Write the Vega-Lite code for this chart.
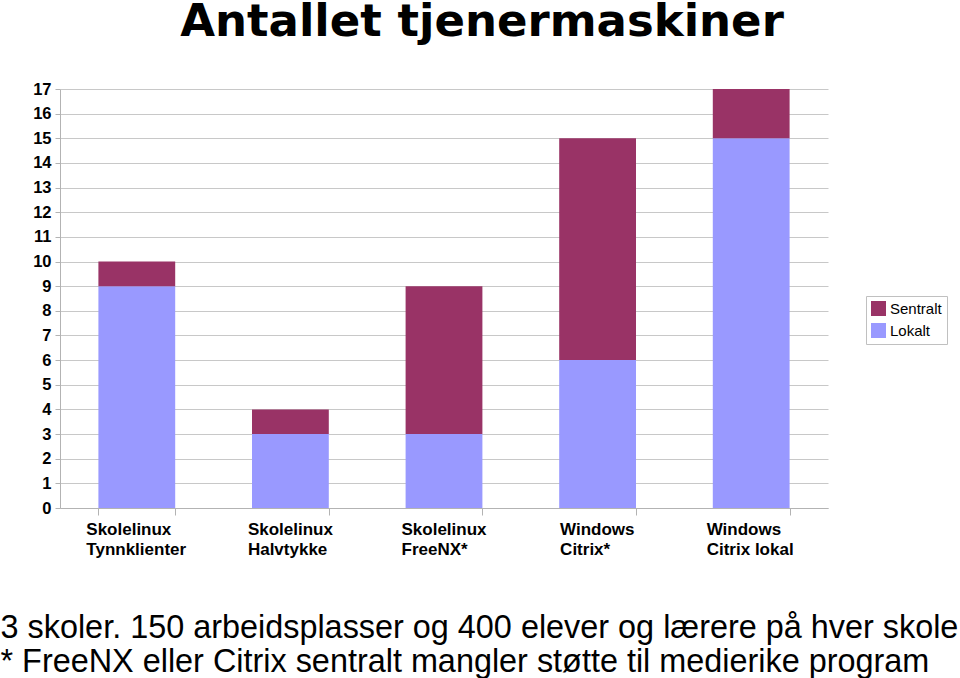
{
  "$schema": "https://vega.github.io/schema/vega-lite/v6.json",
  "width": 768,
  "height": 419,
  "autosize": {"type": "none"},
  "padding": {"left": 60, "top": 89, "right": 132, "bottom": 170},
  "background": "white",
  "title": {
    "text": "Antallet tjenermaskiner",
    "font": "DejaVu Sans",
    "fontWeight": "bold",
    "fontSize": 45,
    "color": "black",
    "anchor": "middle",
    "dx": 38,
    "offset": 36
  },
  "data": {
    "values": [
      {"kategori": "Skolelinux Tynnklienter", "serie": "Lokalt", "antall": 9},
      {"kategori": "Skolelinux Tynnklienter", "serie": "Sentralt", "antall": 1},
      {"kategori": "Skolelinux Halvtykke", "serie": "Lokalt", "antall": 3},
      {"kategori": "Skolelinux Halvtykke", "serie": "Sentralt", "antall": 1},
      {"kategori": "Skolelinux FreeNX*", "serie": "Lokalt", "antall": 3},
      {"kategori": "Skolelinux FreeNX*", "serie": "Sentralt", "antall": 6},
      {"kategori": "Windows Citrix*", "serie": "Lokalt", "antall": 6},
      {"kategori": "Windows Citrix*", "serie": "Sentralt", "antall": 9},
      {"kategori": "Windows Citrix lokal", "serie": "Lokalt", "antall": 15},
      {"kategori": "Windows Citrix lokal", "serie": "Sentralt", "antall": 2}
    ]
  },
  "mark": {"type": "bar"},
  "encoding": {
    "x": {
      "field": "kategori",
      "type": "nominal",
      "sort": null,
      "scale": {"paddingInner": 0.5, "paddingOuter": 0.25},
      "axis": {
        "title": ["3 skoler. 150 arbeidsplasser og 400 elever og lærere på hver skole", "* FreeNX eller Citrix sentralt mangler støtte til medierike program"],
        "titleFont": "Liberation Sans",
        "titleFontSize": 32.4,
        "titleFontWeight": "normal",
        "titleColor": "black",
        "titleAnchor": "start",
        "titleAlign": "left",
        "titleBaseline": "alphabetic",
        "titleLineHeight": 34,
        "titleX": -60,
        "titleY": 129,
        "labelAngle": 0,
        "labelAlign": "left",
        "labelBaseline": "top",
        "labelFont": "Liberation Sans",
        "labelFontSize": 17,
        "labelFontWeight": "bold",
        "labelColor": "black",
        "labelLineHeight": 20,
        "labelPadding": 6,
        "labelExpr": "!datum.value ? '' : datum.value == 'Windows Citrix lokal' ? ['Windows', 'Citrix lokal'] : split(datum.value, ' ')",
        "labelOffset": {
          "condition": [
            {"test": "datum.value == 'Skolelinux Tynnklienter'", "value": -51},
            {"test": "datum.value == 'Windows Citrix*'", "value": -38},
            {"test": "datum.value == 'Windows Citrix lokal'", "value": -45}
          ],
          "value": -43
        },
        "tickBand": "extent",
        "tickSize": 7,
        "tickColor": "#b3b3b3",
        "domainColor": "#b3b3b3",
        "grid": false
      }
    },
    "y": {
      "field": "antall",
      "type": "quantitative",
      "stack": "zero",
      "scale": {"domain": [0, 17], "nice": false},
      "axis": {
        "title": null,
        "values": [0, 1, 2, 3, 4, 5, 6, 7, 8, 9, 10, 11, 12, 13, 14, 15, 16, 17],
        "labelFont": "Liberation Sans",
        "labelFontSize": 16.5,
        "labelFontWeight": "bold",
        "labelColor": "black",
        "labelPadding": 4,
        "tickSize": 5,
        "tickColor": "#b3b3b3",
        "domainColor": "#b3b3b3",
        "gridColor": "#c8c8c8",
        "grid": true
      }
    },
    "order": {"field": "serie", "sort": "ascending"},
    "color": {
      "field": "serie",
      "type": "nominal",
      "scale": {"domain": ["Sentralt", "Lokalt"], "range": ["#993366", "#9999ff"]},
      "legend": {
        "title": null,
        "orient": "none",
        "legendX": 806,
        "legendY": 207,
        "symbolType": "square",
        "symbolSize": 225,
        "symbolStrokeWidth": 0,
        "symbolOpacity": 1,
        "labelFont": "Liberation Sans",
        "labelFontSize": 15,
        "labelColor": "black",
        "rowPadding": 6,
        "padding": 5,
        "strokeColor": "#c0c0c0",
        "fillColor": "white"
      }
    }
  },
  "config": {
    "view": {"stroke": null}
  }
}
